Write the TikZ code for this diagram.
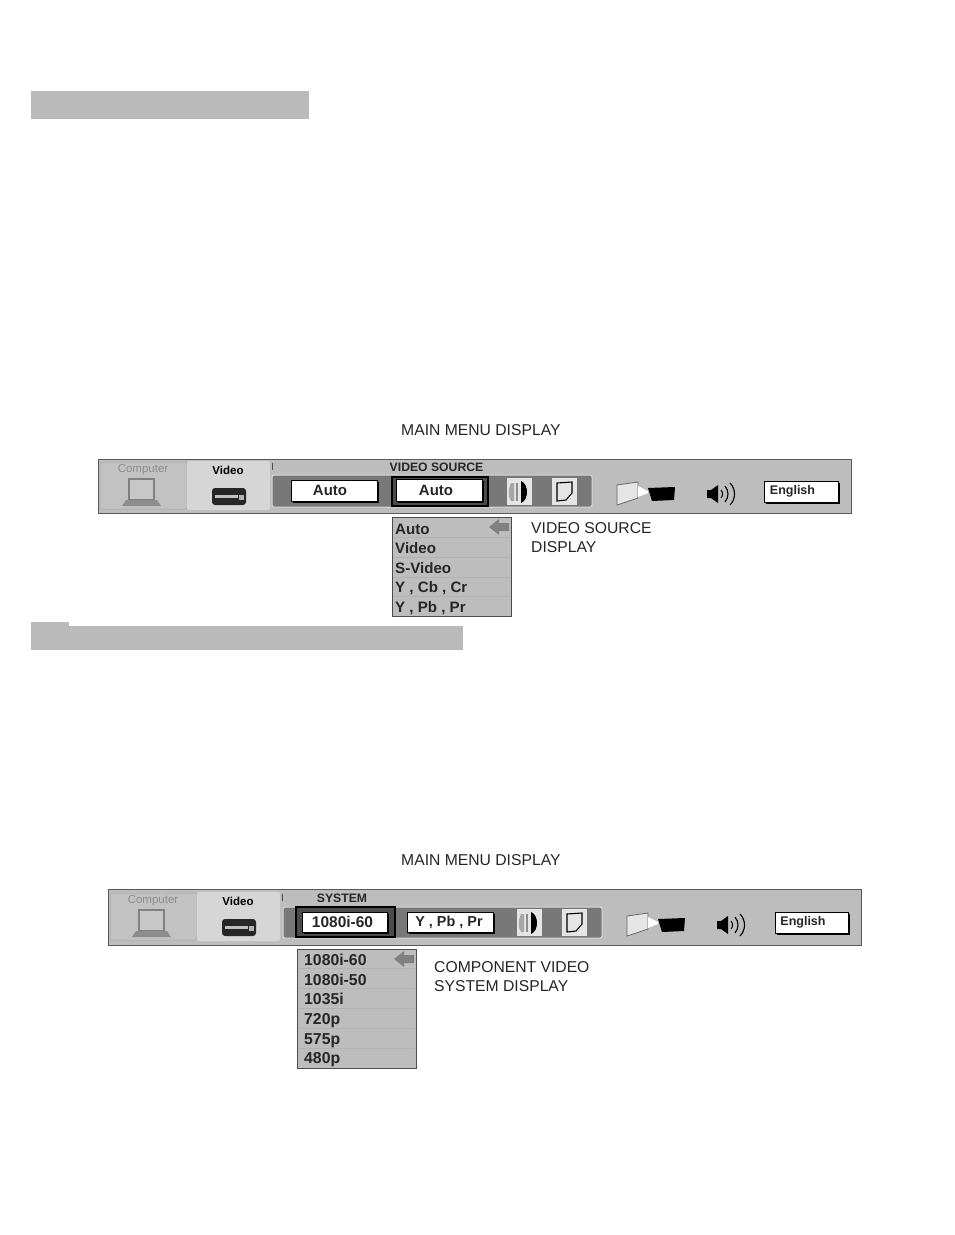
\documentclass[tikz,border=0pt]{standalone}
\usepackage{fontspec}
\setmainfont{Liberation Sans}
\definecolor{barg}{gray}{0.74}
\definecolor{tabg}{gray}{0.84}
\definecolor{tabc}{gray}{0.76}
\definecolor{wellg}{gray}{0.47}
\definecolor{head}{gray}{0.73}
\tikzset{x=1pt,y=-1pt,
 captxt/.style={font=\fontsize{15.7}{18}\selectfont,anchor=west,inner sep=0pt,text=black!85},
 barbox/.style={fill=barg,draw=black!65,line width=.9pt},
 tabbox/.style={fill=tabg,draw=none,rounded corners=2pt},
 tabcomp/.style={fill=tabc,draw=black!35,line width=.5pt,rounded corners=2pt},
 well/.style={fill=wellg,draw=white!85!black,line width=1pt,rounded corners=2pt},
 whitebtn/.style={fill=white,draw=black,line width=.5pt,font=\bfseries\fontsize{15}{16}\selectfont,inner sep=0pt,text=black!85},
 shadowfill/.style={fill=black,draw=none},
 menubox/.style={fill=barg,draw=black!70,line width=1pt},
 menuitem/.style={font=\bfseries\fontsize{15.1}{16}\selectfont,anchor=base west,inner sep=0pt,text=black!85},
 menuitemb/.style={menuitem,font=\bfseries\fontsize{15.8}{16}\selectfont},
 sepl/.style={draw=white!70!black,line width=.7pt},
 tabtxt/.style={font=\bfseries\fontsize{11.5}{13}\selectfont,inner sep=0pt,text=black},
 titletxt/.style={font=\bfseries\fontsize{12.2}{13}\selectfont,inner sep=0pt,text=black!85},
 arr/.style={fill=black!50,draw=none},
}
% common pieces of a menu bar, drawn relative to the scope origin (top-left of the bar)
\newcommand{\barcommon}{%
 \path[tabcomp] (2,3) rectangle (89,50);
 \node[tabtxt,text=black!45,font=\fontsize{11.5}{13}\selectfont] (comp) at (45,11) {Computer};
 % laptop
 \draw[black!50,fill=black!22,line width=1.5pt] (31,20) rectangle (56,41);
 \fill[black!45] (28,41) -- (59,41) -- (63,47) -- (24,47) -- cycle;
 \path[tabbox] (89,2) rectangle (172,51);
 \node[tabtxt] (vid) at (130,11) {Video};
 % VCR
 \fill[black!85,rounded corners=3pt] (114,29) rectangle (148,46);
 \fill[black!25] (117,36) rectangle (140,39);
 \fill[black!30] (141,36) rectangle (146,41);
 \draw[black!70,line width=.8pt] (174,4) -- (174,11);
}
\newcommand{\barright}{%
 % right part: image icons
 \fill[white!90!black] (409,19) rectangle (434,46);
 \fill[black!35] (413,24) .. controls (410,30) and (410,38) .. (413,42) -- (416,42) -- (416,24) -- cycle;
 \fill[black!45] (418,24) rectangle (420,42);
 \fill[black] (423,22) .. controls (431,25) and (431,41) .. (423,44) -- cycle;
 \fill[white!90!black] (454,19) rectangle (479,46);
 \draw[black,line width=1.1pt] (459,24) -- (474,23) -- (474,34) -- (468,41) -- (459,42) -- cycle;
 % projector
 \draw[black!60,fill=black!10,line width=.8pt] (519,26) -- (540,23) -- (540,39) -- (519,46) -- cycle;
 \fill[white] (540,27) -- (550,32) -- (550,34) -- (540,38) -- cycle;
 \fill[black] (550,29) -- (577,28) -- (576,41) -- (554,42) -- cycle;
 % speaker
 \fill[black] (609,31) -- (613,31) -- (620,26) -- (620,44) -- (613,39) -- (609,39) -- cycle;
 \draw[black,line width=1pt] (623,31) .. controls (625,33) and (625,37) .. (623,39);
 \draw[black,line width=1.1pt] (627,27) .. controls (631,32) and (631,38) .. (627,43);
 \draw[black,line width=1.1pt] (632,24) .. controls (638,30) and (638,40) .. (632,46);
}
\newcommand{\btn}[6]{% name, x0, y0, x1, y1, text
 \fill[shadowfill] (#2+2,#3+2) rectangle (#4+2,#5+2);
 \node[whitebtn,minimum width=#4pt-#2pt,minimum height=#5pt-#3pt] (#1) at ({(#2+#4)/2},{(#3+#5)/2}) {#6};
}
\newcommand{\menuarrow}[2]{%
 \fill[arr] (#1,#2) -- (#1+10,#2-8) -- (#1+10,#2-4) -- (#1+20,#2-4) -- (#1+20,#2+4) -- (#1+10,#2+4) -- (#1+10,#2+8) -- cycle;
}
\begin{document}
\begin{tikzpicture}
\useasboundingbox (0,0) rectangle (954,1235);
\fill[white] (0,0) rectangle (954,1235);
% section headings
\fill[head] (31,91) rectangle (309,119);
\fill[head] (31,626) rectangle (463,650);
\fill[head] (31,622) rectangle (69,626);
% first block
\node[captxt] (mm1) at (401,430.5) {MAIN MENU DISPLAY};
\node[barbox,minimum width=753pt,minimum height=54pt,inner sep=0pt,anchor=north west] (bar1) at (98,459) {};
\begin{scope}[shift={(98,459)}]
 \barcommon
 \path[well] (174,16) rectangle (494,48);
 \barright
 \node[titletxt] (t1) at (338.5,8) {VIDEO SOURCE};
 \draw[black,line width=1.2pt,fill=black!70] (294,18) rectangle (390,47);
 \btn{b1a}{193}{21}{279}{42}{Auto\kern8pt}
 \btn{b1b}{298}{20}{384}{42}{Auto\kern6pt}
 \btn{b1e}{666}{22}{740}{43}{\fontsize{12.5}{14}\selectfont English\kern17pt}
\end{scope}
\node[menubox,minimum width=119pt,minimum height=99pt,inner sep=0pt,anchor=north west] (m1) at (392,517) {};
\foreach \y in {537,557,577,596} \draw[sepl] (393,\y) -- (510,\y);
\node[menuitem] (i11) at (395,534) {Auto};
\node[menuitem] (i12) at (395,553) {Video};
\node[menuitem] (i13) at (395,573) {S-Video};
\node[menuitem] (i14) at (395,592) {Y , Cb , Cr};
\node[menuitem] (i15) at (395,612) {Y , Pb , Pr};
\menuarrow{489}{527}
\node[captxt] (c11) at (531,528) {VIDEO SOURCE};
\node[captxt] (c12) at (531,547) {DISPLAY};
% second block
\node[captxt] (mm2) at (401,860.5) {MAIN MENU DISPLAY};
\node[barbox,minimum width=753pt,minimum height=56pt,inner sep=0pt,anchor=north west] (bar2) at (108,889) {};
\begin{scope}[shift={(108,889)}]
 \begin{scope}[yshift=-1pt]
 \barcommon
 \end{scope}
 \path[well] (175,18) rectangle (494,49);
 \begin{scope}[yshift=-1pt]
 \barright
 \end{scope}
 \node[titletxt] (t2) at (234,9) {SYSTEM};
 \draw[black,line width=1.2pt,fill=black!70] (188,18) rectangle (287,48);
 \btn{b2a}{194}{23}{279}{43}{\fontsize{15.5}{16}\selectfont 1080i-60\kern4pt}
 \btn{b2b}{299}{23}{385}{43}{\fontsize{14.4}{16}\selectfont Y , Pb , Pr\kern2pt}
 \btn{b2e}{667}{23}{740}{44}{\fontsize{12.5}{14}\selectfont English\kern17pt}
\end{scope}
\node[menubox,minimum width=119pt,minimum height=119pt,inner sep=0pt,anchor=north west] (m2) at (297,949) {};
\foreach \y in {968,988,1008,1028,1048} \draw[sepl] (298,\y) -- (415,\y);
\node[menuitemb] (i21) at (304,965) {1080i-60};
\node[menuitemb] (i22) at (304,985) {1080i-50};
\node[menuitemb] (i23) at (304,1004) {1035i};
\node[menuitemb] (i24) at (304,1024) {720p};
\node[menuitemb] (i25) at (304,1044) {575p};
\node[menuitemb] (i26) at (304,1063) {480p};
\menuarrow{394}{959}
\node[captxt] (c21) at (434,967) {COMPONENT VIDEO};
\node[captxt] (c22) at (434,986) {SYSTEM DISPLAY};
\end{tikzpicture}
\end{document}
